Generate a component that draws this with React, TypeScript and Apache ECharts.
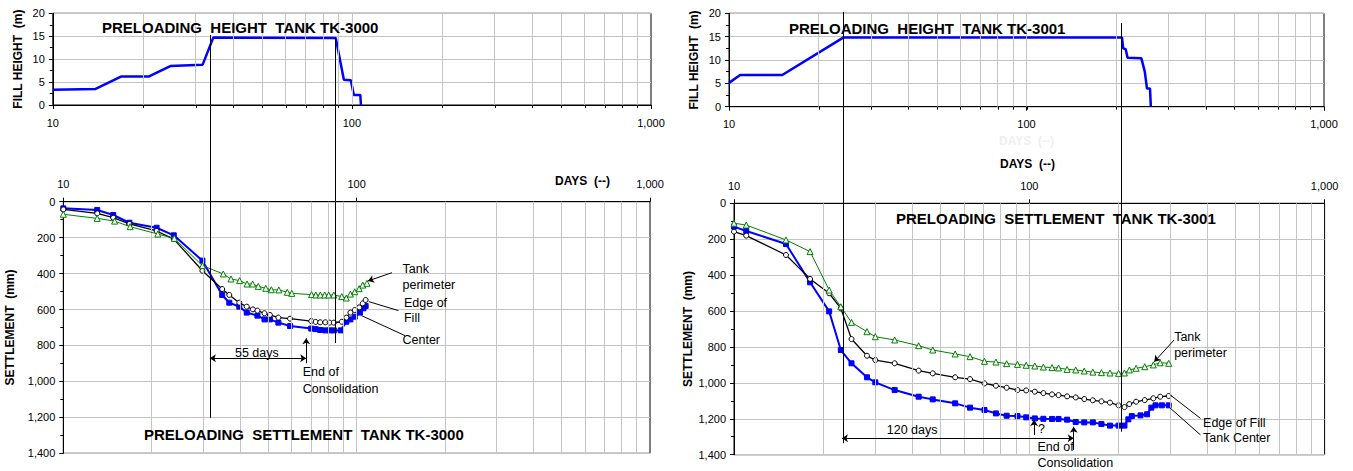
import React, { useEffect, useRef } from "react";
import * as echarts from "echarts";

const FONT = "'Liberation Sans', Arial, sans-serif";

// ---------- data ----------
const minorDays = [20, 30, 40, 50, 60, 70, 80, 90, 100, 200, 300, 400, 500, 600, 700, 800, 900];

// TK-3000 fill height
const fill3000Days = [10, 13.9, 16.9, 20.9, 24.7, 31.7, 34.4, 88.3, 94.0, 99.2, 101.5, 106.7, 107.2];
const fill3000Height = [3.3, 3.5, 6.2, 6.2, 8.5, 8.8, 14.7, 14.6, 5.5, 5.4, 2.2, 2.2, 0];

// TK-3001 fill height
const fill3001Days = [10, 10.9, 15.1, 24.2, 209.4, 211.4, 215.5, 218.6, 243.2, 249.8, 254.1, 260.1, 261.8];
const fill3001Height = [5.1, 6.8, 6.8, 14.8, 14.8, 12.5, 12.3, 10.5, 10.4, 7.5, 3.9, 3.9, 0];

// TK-3000 settlement
const s3000CenterDays = [10, 13.05, 14.8, 16.8, 20.8, 23.8, 29.8, 34.8, 36.8, 39.8, 42.2, 45.9, 48.5, 50.6, 54.1, 59.3, 70.0, 72.5, 75.1, 78.2, 80.9, 83.6, 88.3, 92.2, 95.2, 98.5, 102.6, 105.5, 107.3];
const s3000Center = [37, 46, 74, 117, 145, 187, 328, 519, 562, 584, 617, 634, 655, 655, 673, 692, 706, 709, 714, 716, 716, 716, 716, 668, 655, 640, 617, 593, 580];
const s3000EdgeDays = [10, 13.05, 14.8, 16.8, 20.8, 23.8, 29.8, 34.8, 36.8, 39.8, 42.2, 44.3, 45.9, 48.5, 50.6, 54.1, 59.3, 70.0, 72.5, 75.1, 78.2, 80.9, 83.6, 89.0, 92.2, 95.2, 98.5, 102, 104.9, 107.3];
const s3000Edge = [43, 65, 89, 124, 163, 208, 384, 486, 519, 562, 584, 599, 606, 621, 630, 645, 651, 664, 669, 671, 671, 673, 673, 668, 645, 617, 603, 588, 566, 547];
const s3000PerimDays = [10, 13.05, 14.96, 16.9, 21.0, 23.9, 29.8, 35.1, 37.3, 39.9, 42.3, 44.2, 46.2, 49.0, 51.2, 54.3, 58.0, 60.1, 70.2, 72.6, 75.2, 77.8, 80.3, 83.6, 89.0, 92.2, 95.2, 98.5, 102, 104.9, 108.4];
const s3000Perim = [70, 93, 108, 139, 180, 204, 356, 402, 430, 439, 458, 458, 471, 482, 490, 491, 504, 510, 517, 519, 519, 519, 519, 519, 528, 536, 514, 501, 484, 464, 454];

// TK-3001 settlement
const s3001Days = [10, 11, 15, 18.1, 21, 23, 25, 28.2, 30.1, 35, 42.2, 47.1, 56.1, 63, 70.5, 77.1, 83.8, 91.2, 97.6, 104.4, 111.6, 119.4, 125.6, 134.3, 143.6, 153.5, 164.1, 175.5, 187.6, 200.6, 210];
const s3001Perim = [111, 121, 204, 269, 483, 576, 663, 715, 743, 761, 793, 817, 839, 854, 880, 884, 893, 897, 902, 906, 912, 915, 917, 925, 928, 934, 940, 943, 945, 947, 945];
const s3001Edge = [158, 180, 288, 421, 501, 585, 756, 849, 873, 891, 932, 947, 969, 979, 1003, 1016, 1027, 1040, 1042, 1049, 1057, 1064, 1068, 1075, 1081, 1090, 1097, 1103, 1110, 1125, 1135];
const s3001Center = [130, 154, 227, 440, 602, 817, 891, 969, 997, 1040, 1077, 1092, 1114, 1138, 1151, 1170, 1183, 1185, 1192, 1198, 1200, 1201, 1201, 1205, 1218, 1220, 1220, 1229, 1238, 1238, 1238];
const s3001PerimTailDays = [218.3, 230, 246, 263, 277.5, 296.6];
const s3001PerimTail = [928, 919, 910, 900, 888, 891];
const s3001EdgeTailDays = [218, 230, 246, 263, 277.5, 296.6];
const s3001EdgeTail = [1118, 1105, 1096, 1086, 1077, 1073];
const s3001CenterTailDays = [216.5, 222.4, 238, 250.5, 259, 267.5, 281, 296.6];
const s3001CenterTail = [1203, 1185, 1181, 1175, 1138, 1125, 1125, 1125];

// annotation texts: [grid, day, value, text, align]
const notes: [number, number, number, string, string][] = [
  [1, 143.3, 375, "Tank", "left"],
  [1, 143.3, 464, "perimeter", "left"],
  [1, 145, 562, "Edge of", "left"],
  [1, 145, 649, "Fill", "left"],
  [1, 143.3, 770, "Center", "left"],
  [1, 45.7, 844, "55 days", "center"],
  [1, 65.5, 949, "End of", "left"],
  [1, 65.5, 1042, "Consolidation", "left"],
  [3, 309.4, 743, "Tank", "left"],
  [3, 309.4, 832, "perimeter", "left"],
  [3, 387.6, 1222, "Edge of Fill", "left"],
  [3, 387.6, 1309, "Tank Center", "left"],
  [3, 40.1, 1263, "120 days", "center"],
  [3, 107, 1259, "?", "left"],
  [3, 106.6, 1355, "End of", "left"],
  [3, 106.6, 1445, "Consolidation", "left"],
];

// annotation arrows/lines: [x1, y1, x2, y2, startArrow, endArrow]
const arrows3000: [number, number, number, number, boolean, boolean][] = [
  [31.6, 871, 67.3, 871, true, true],
  [67.3, 899, 67.3, 760, false, true],
  [131.9, 395, 109.3, 441, false, true],
  [138.8, 606, 110, 556, false, false],
  [146.1, 745, 103.9, 634, false, false],
];
const arrows3001: [number, number, number, number, boolean, boolean][] = [
  [23.2, 1309, 141.4, 1309, true, true],
  [103.8, 1290, 103.8, 1207, false, true],
  [141.4, 1374, 141.4, 1244, false, true],
  [309.4, 761, 265, 882, false, true],
  [380, 1198, 300.6, 1068, false, false],
  [380, 1290, 296.6, 1133, false, false],
];

// vertical lines spanning height & settlement plots: [topGrid, bottomGrid, day, topVal, bottomVal]
const spanLines: [number, number, number, number, number][] = [
  [0, 1, 33.5, 15.3, 1203],
  [0, 1, 87.6, 14.6, 786],
  [2, 3, 24.2, 20.3, 1336],
  [2, 3, 208, 17.9, 1272],
];

const zip = (a: number[], b: number[]) => a.map((v, i) => [v, b[i]]);

export default function App() {
  const ref = useRef<HTMLDivElement>(null);
  useEffect(() => {
    document.body.style.margin = "0";
    const chart = echarts.init(ref.current!, null, { renderer: "svg" });
    const grids = [
      { left: 52.8, top: 13.3, width: 598.2, height: 91.7 },
      { left: 63.3, top: 201.7, width: 586.7, height: 251.6 },
      { left: 729, top: 13.3, width: 595, height: 93.4 },
      { left: 734, top: 203.3, width: 590.6, height: 251.4 },
    ].map((g) => ({ ...g, show: true, borderColor: "#000", borderWidth: 1, backgroundColor: "transparent" }));
    const nameGaps = [29, 47, 29, 40];

    const fmt = (v: number) => Number(v).toLocaleString("en-US");
    const xAxis = [0, 1, 2, 3].map((i) => ({
      type: "log",
      logBase: 10,
      gridIndex: i,
      min: 10,
      max: 1000,
      position: i % 2 === 0 ? "bottom" : "top",
      axisLine: { lineStyle: { color: "#000", width: 1 } },
      axisTick: { show: true, length: 4, lineStyle: { color: "#000" } },
      axisLabel: { color: "#000", fontSize: 11, fontFamily: FONT, margin: 12, formatter: fmt },
      splitLine: { show: false },
    }));
    const yAxis = [0, 1, 2, 3].map((i) => {
      const top = i % 2 === 0;
      return {
        type: "value",
        gridIndex: i,
        min: 0,
        max: top ? 20 : 1400,
        interval: top ? 5 : 200,
        inverse: !top,
        name: top ? "FILL HEIGHT  (m)" : "SETTLEMENT  (mm)",
        nameLocation: "middle",
        nameRotate: 90,
        nameGap: nameGaps[i],
        nameTextStyle: { color: "#000", fontSize: 12, fontWeight: "bold", fontFamily: FONT },
        axisLine: { show: true, lineStyle: { color: "#000", width: 1 } },
        axisTick: { show: true, length: 4, lineStyle: { color: "#000" } },
        minorTick: { show: true, splitNumber: 2, length: 3, lineStyle: { color: "#000" } },
        axisLabel: { color: "#000", fontSize: 11, fontFamily: FONT, margin: 8, formatter: fmt },
        splitLine: { show: true, lineStyle: { color: "#c4c4c4", width: 1 } },
      };
    });

    const gridLineSeries = [0, 1, 2, 3].map((i) => ({
      type: "line",
      xAxisIndex: i,
      yAxisIndex: i,
      data: [],
      z: 1,
      silent: true,
      markLine: {
        silent: true,
        symbol: "none",
        label: { show: false },
        lineStyle: { color: "#c4c4c4", width: 1, type: "solid" },
        data: minorDays.map((d) => ({ xAxis: d })),
      },
    }));

    const arrowSeries = (idx: number, list: typeof arrows3000) => ({
      type: "line",
      xAxisIndex: idx,
      yAxisIndex: idx,
      data: [],
      z: 6,
      silent: true,
      markLine: {
        silent: true,
        label: { show: false },
        symbolSize: 6,
        lineStyle: { color: "#000", width: 1, type: "solid" },
        data: list.map(([x1, y1, x2, y2, a1, a2]) => [
          { coord: [x1, y1], symbol: a1 ? "arrow" : "none", symbolSize: 6 },
          { coord: [x2, y2], symbol: a2 ? "arrow" : "none", symbolSize: 6 },
        ]),
      },
    });

    const fillSeries = (idx: number, d: number[], h: number[]) => ({
      type: "line",
      xAxisIndex: idx,
      yAxisIndex: idx,
      data: zip(d, h),
      symbol: "none",
      z: 4,
      lineStyle: { color: "#0000ff", width: 2.5 },
    });
    const centerS = (idx: number, d: number[], v: number[]) => ({
      type: "line", xAxisIndex: idx, yAxisIndex: idx, data: zip(d, v), z: 3,
      symbol: "rect", symbolSize: 5,
      lineStyle: { color: "#0000ff", width: 2 },
      itemStyle: { color: "#0000ff", borderColor: "#0000ff" },
    });
    const edgeS = (idx: number, d: number[], v: number[]) => ({
      type: "line", xAxisIndex: idx, yAxisIndex: idx, data: zip(d, v), z: 4,
      symbol: "circle", symbolSize: 5,
      lineStyle: { color: "#000", width: 1.3 },
      itemStyle: { color: "#fff", borderColor: "#000", borderWidth: 1 },
    });
    const perimS = (idx: number, d: number[], v: number[]) => ({
      type: "line", xAxisIndex: idx, yAxisIndex: idx, data: zip(d, v), z: 5,
      symbol: "triangle", symbolSize: 6,
      lineStyle: { color: "#008000", width: 1 },
      itemStyle: { color: "#fff", borderColor: "#008000", borderWidth: 1 },
    });

    const titleStyle = { color: "#000", fontSize: 15, fontWeight: "bold", fontFamily: FONT };
    const smallBold = { color: "#000", fontSize: 12, fontWeight: "bold", fontFamily: FONT };

    const option: any = {
      animation: false,
      backgroundColor: "#fff",
      title: [
        { text: "PRELOADING  HEIGHT  TANK TK-3000", left: 102, top: 20, padding: 0, textStyle: titleStyle },
        { text: "PRELOADING  SETTLEMENT  TANK TK-3000", left: 144, top: 427, padding: 0, textStyle: titleStyle },
        { text: "PRELOADING  HEIGHT  TANK TK-3001", left: 789, top: 21, padding: 0, textStyle: titleStyle },
        { text: "PRELOADING  SETTLEMENT  TANK TK-3001", left: 896, top: 211, padding: 0, textStyle: titleStyle },
        { text: "DAYS  (--)", left: 555, top: 175, padding: 0, textStyle: smallBold },
        { text: "DAYS  (--)", left: 1000, top: 158, padding: 0, textStyle: smallBold },
        { text: "DAYS  (--)", left: 999, top: 135, padding: 0, textStyle: { ...smallBold, color: "#efefef" } },
      ],
      grid: grids,
      xAxis,
      yAxis,
      series: [
        ...gridLineSeries,
        fillSeries(0, fill3000Days, fill3000Height),
        fillSeries(2, fill3001Days, fill3001Height),
        centerS(1, s3000CenterDays, s3000Center),
        edgeS(1, s3000EdgeDays, s3000Edge),
        perimS(1, s3000PerimDays, s3000Perim),
        centerS(3, s3001Days.concat(s3001CenterTailDays), s3001Center.concat(s3001CenterTail)),
        edgeS(3, s3001Days.concat(s3001EdgeTailDays), s3001Edge.concat(s3001EdgeTail)),
        perimS(3, s3001Days.concat(s3001PerimTailDays), s3001Perim.concat(s3001PerimTail)),
        arrowSeries(1, arrows3000),
        arrowSeries(3, arrows3001),
      ],
    };
    chart.setOption(option);

    const px = (g: number, x: number, y: number) =>
      chart.convertToPixel({ gridIndex: g } as any, [x, y]) as unknown as number[];

    const graphic: any[] = [];
    spanLines.forEach(([tg, bg, day, tv, bv]) => {
      const p1 = px(tg, day, tv);
      const p2 = px(bg, 10, bv);
      graphic.push({
        type: "line",
        z: 10,
        silent: true,
        shape: { x1: Math.round(p1[0]) + 0.5, y1: p1[1], x2: Math.round(p1[0]) + 0.5, y2: p2[1] },
        style: { stroke: "#000", lineWidth: 1 },
      });
    });
    // minor tick marks below the day axis of the fill-height plots
    [0, 2].forEach((g) => {
      minorDays.forEach((d) => {
        const p = px(g, d, 0);
        const x = Math.round(p[0]) + 0.5;
        graphic.push({
          type: "line",
          z: 10,
          silent: true,
          shape: { x1: x, y1: p[1], x2: x, y2: p[1] + 3 },
          style: { stroke: "#000", lineWidth: 1 },
        });
      });
    });
    notes.forEach(([g, d, v, text, align]) => {
      const p = px(g, d, v);
      graphic.push({
        type: "text",
        z: 10,
        silent: true,
        x: p[0],
        y: p[1],
        style: {
          text,
          fill: "#000",
          font: `12.5px ${FONT}`,
          align,
          textAlign: align,
          verticalAlign: "middle",
          textVerticalAlign: "middle",
        },
      });
    });
    chart.setOption({ graphic });

    return () => chart.dispose();
  }, []);
  return <div ref={ref} style={{ width: 1353, height: 471 }} />;
}
